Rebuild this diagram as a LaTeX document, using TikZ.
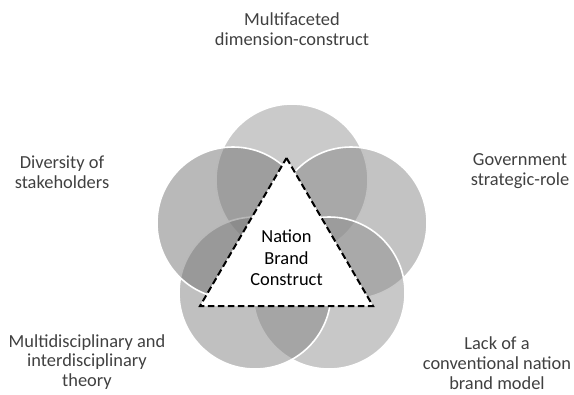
\documentclass[tikz,border=0pt]{standalone}
\usepackage{fontspec}
\setmainfont{Carlito}
\usepackage{tikz}
\usetikzlibrary{positioning,calc}

\definecolor{petalA}{RGB}{150,150,150}
\definecolor{petalB}{RGB}{135,135,135}
\definecolor{petalC}{RGB}{145,145,145}
\definecolor{petalD}{RGB}{130,130,130}
\definecolor{petalE}{RGB}{115,115,115}
\definecolor{labeltext}{RGB}{64,64,64}

\begin{document}
\begin{tikzpicture}[
    x=0.75pt, y=-0.75pt,
    petal/.style={circle, draw=white, line width=1.2pt, fill opacity=0.5,
        minimum size=114pt, inner sep=0pt},
    label/.style={align=center, text=labeltext,
        font=\fontsize{13.8}{14.8}\selectfont},
    core/.style={draw=black, fill=white, line width=1.5pt,
        dash pattern=on 5pt off 2.5pt, line join=miter}
]
    \useasboundingbox (0,0) rectangle (574,394);

    % petals, clockwise from the top
    \node[petal, fill=petalA] (top)   at (292,180) {};
    \node[petal, fill=petalB] (right) at (351,223) {};
    \node[petal, fill=petalC] (lowr)  at (329,293) {};
    \node[petal, fill=petalD] (lowl)  at (255,293) {};
    \node[petal, fill=petalE] (left)  at (233,223) {};

    % centre triangle
    \coordinate (apex) at (286.5,158);
    \coordinate (baser) at (373,306);
    \coordinate (basel) at (200,306);
    \draw[core] (apex) -- (baser) -- (basel) -- cycle;
    \node[align=center, font=\fontsize{13.8}{16}\selectfont] (nbc) at (286.5,258)
        {Nation\\Brand\\Construct};

    % labels
    \node[label] (multi) at (292,29) {Multifaceted\\dimension-construct};
    \node[label] (stake) at (62,172) {Diversity of\\stakeholders};
    \node[label] (gov)   at (520,171) {Government\\strategic-role};
    \node[label] (disc)  at (87,362) {Multidisciplinary and\\interdisciplinary\\theory};
    \node[label] (lack)  at (497,363) {Lack of a\\conventional nation\\brand model};
\end{tikzpicture}
\end{document}
